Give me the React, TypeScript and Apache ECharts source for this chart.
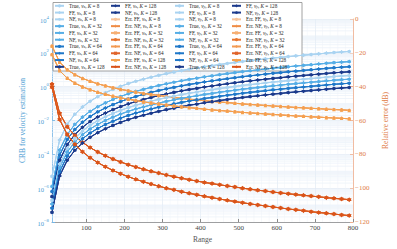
import React, { useEffect, useRef } from 'react';
import * as echarts from 'echarts';

const SERIF = '"Liberation Serif", "DejaVu Serif", serif';

// Range samples (marker positions)
const ranges = [10, 30, 50, 70, 90, 110, 130, 150, 170, 190, 210, 230, 250, 270, 290, 310, 330, 350, 370, 390,
  410, 430, 450, 470, 490, 510, 530, 550, 570, 590, 610, 630, 650, 670, 690, 710, 730, 750, 770, 790];

// CRB curves, read as log10 of the value (left log axis)
const crbVxK8 = [-5.30, -3.15, -2.22, -1.63, -1.20, -0.86, -0.59, -0.36, -0.16, 0.02, 0.18, 0.32, 0.44, 0.56, 0.67, 0.77, 0.86, 0.95, 1.03, 1.10,
  1.18, 1.24, 1.31, 1.37, 1.43, 1.49, 1.54, 1.59, 1.64, 1.69, 1.73, 1.78, 1.82, 1.86, 1.90, 1.94, 1.98, 2.02, 2.05, 2.08];
const crbVxK32 = [-5.90, -3.75, -2.82, -2.23, -1.80, -1.46, -1.19, -0.96, -0.76, -0.58, -0.42, -0.28, -0.16, -0.04, 0.07, 0.17, 0.26, 0.35, 0.43, 0.50,
  0.58, 0.64, 0.71, 0.77, 0.83, 0.89, 0.94, 0.99, 1.04, 1.09, 1.13, 1.18, 1.22, 1.26, 1.30, 1.34, 1.38, 1.42, 1.45, 1.48];
const crbVxK64 = [-6.20, -4.05, -3.12, -2.53, -2.10, -1.76, -1.49, -1.26, -1.06, -0.88, -0.72, -0.58, -0.46, -0.34, -0.23, -0.13, -0.04, 0.05, 0.13, 0.20,
  0.28, 0.34, 0.41, 0.47, 0.53, 0.59, 0.64, 0.69, 0.74, 0.79, 0.83, 0.88, 0.92, 0.96, 1.00, 1.04, 1.08, 1.12, 1.15, 1.18];
const crbVxK128 = [-6.50, -4.35, -3.42, -2.83, -2.40, -2.06, -1.79, -1.56, -1.36, -1.18, -1.02, -0.88, -0.76, -0.64, -0.53, -0.43, -0.34, -0.25, -0.17, -0.10,
  -0.02, 0.04, 0.11, 0.17, 0.23, 0.29, 0.34, 0.39, 0.44, 0.49, 0.53, 0.58, 0.62, 0.66, 0.70, 0.74, 0.78, 0.82, 0.85, 0.88];
const crbVyK8 = [-6.72, -4.57, -3.64, -3.05, -2.62, -2.28, -2.01, -1.78, -1.58, -1.40, -1.24, -1.10, -0.98, -0.86, -0.75, -0.65, -0.56, -0.47, -0.39, -0.32,
  -0.24, -0.18, -0.11, -0.05, 0.01, 0.07, 0.12, 0.17, 0.22, 0.27, 0.31, 0.36, 0.40, 0.44, 0.48, 0.52, 0.56, 0.60, 0.63, 0.66];
const crbVyK32 = [-6.94, -4.79, -3.86, -3.27, -2.84, -2.50, -2.23, -2.00, -1.80, -1.62, -1.46, -1.32, -1.20, -1.08, -0.97, -0.87, -0.78, -0.69, -0.61, -0.54,
  -0.46, -0.40, -0.33, -0.27, -0.21, -0.15, -0.10, -0.05, 0.00, 0.05, 0.09, 0.14, 0.18, 0.22, 0.26, 0.30, 0.34, 0.38, 0.41, 0.44];
const crbVyK64 = [-7.18, -5.03, -4.10, -3.51, -3.08, -2.74, -2.47, -2.24, -2.04, -1.86, -1.70, -1.56, -1.44, -1.32, -1.21, -1.11, -1.02, -0.93, -0.85, -0.78,
  -0.70, -0.64, -0.57, -0.51, -0.45, -0.39, -0.34, -0.29, -0.24, -0.19, -0.15, -0.10, -0.06, -0.02, 0.02, 0.06, 0.10, 0.14, 0.17, 0.20];
const crbVyK128 = [-7.43, -5.28, -4.35, -3.76, -3.33, -2.99, -2.72, -2.49, -2.29, -2.11, -1.95, -1.81, -1.69, -1.57, -1.46, -1.36, -1.27, -1.18, -1.10, -1.03,
  -0.95, -0.89, -0.82, -0.76, -0.70, -0.64, -0.59, -0.54, -0.49, -0.44, -0.40, -0.35, -0.31, -0.27, -0.23, -0.19, -0.15, -0.11, -0.08, -0.05];

// Relative errors in dB (right axis)
const errFFVx = [-16.0, -25.5, -30.0, -32.9, -35.1, -36.8, -38.3, -39.5, -40.6, -41.6, -42.4, -43.2, -44.0, -44.6, -45.2, -45.8, -46.4, -46.9, -47.4, -47.8,
  -48.3, -48.7, -49.1, -49.4, -49.8, -50.2, -50.5, -50.8, -51.1, -51.4, -51.7, -52.0, -52.3, -52.5, -52.8, -53.0, -53.3, -53.5, -53.7, -54.0];
const errFFVy = [-21.0, -30.5, -35.0, -37.9, -40.1, -41.8, -43.3, -44.5, -45.6, -46.6, -47.4, -48.2, -49.0, -49.6, -50.2, -50.8, -51.4, -51.9, -52.4, -52.8,
  -53.3, -53.7, -54.1, -54.4, -54.8, -55.2, -55.5, -55.8, -56.1, -56.4, -56.7, -57.0, -57.3, -57.5, -57.8, -58.0, -58.3, -58.5, -58.7, -59.0];
const errNFVx = [-38.5, -55.7, -63.7, -68.9, -72.9, -76.0, -78.6, -80.8, -82.8, -84.5, -86.1, -87.5, -88.8, -90.0, -91.1, -92.2, -93.2, -94.1, -95.0, -95.8,
  -96.6, -97.3, -98.0, -98.7, -99.3, -100.0, -100.6, -101.2, -101.7, -102.3, -102.8, -103.3, -103.8, -104.2, -104.7, -105.1, -105.6, -106.0, -106.4, -106.8];
const errNFVy = [-40.3, -59.4, -68.3, -74.1, -78.5, -82.0, -84.9, -87.3, -89.5, -91.5, -93.2, -94.8, -96.2, -97.6, -98.8, -100.0, -101.0, -102.1, -103.0, -103.9,
  -104.8, -105.6, -106.4, -107.2, -107.9, -108.6, -109.3, -109.9, -110.5, -111.1, -111.7, -112.3, -112.8, -113.3, -113.9, -114.4, -114.8, -115.3, -115.8, -116.2];

const kValues = ['8', '32', '64', '128'];
const methods = ['True', 'FF', 'NF'];
const xTickLabels = ['100', '200', '300', '400', '500', '600', '700', '800'];

const blueColors = ['#A9D3F1', '#56AEE6', '#1F78C9', '#1B3A8C'];
const errFFColors = ['#F8C49A', '#F6AE72', '#F39A52', '#F5A04C'];
const errNFColors = ['#EF8C45', '#E8752F', '#E0632A', '#D95319'];

const HEX = 'path://M0,-10L2.89,-5L8.66,-5L5.77,0L8.66,5L2.89,5L0,10L-2.89,5L-8.66,5L-5.77,0L-8.66,-5L-2.89,-5Z';
const PLUS = 'path://M-1.5,-10H1.5V-1.5H10V1.5H1.5V10H-1.5V1.5H-10V-1.5H-1.5Z';

const components = [
  { sub: 'x', crb: [crbVxK8, crbVxK32, crbVxK64, crbVxK128], errFF: errFFVx, errNF: errNFVx },
  { sub: 'y', crb: [crbVyK8, crbVyK32, crbVyK64, crbVyK128], errFF: errFFVy, errNF: errNFVy },
];

function buildSeries() {
  const series: any[] = [];
  const names: string[] = [];
  const methodSym: Record<string, [string, number]> = { True: ['circle', 2.6], FF: ['diamond', 3.4], NF: [HEX, 4.2] };
  const ffSym: [string, number][] = [['circle', 3.2], ['rect', 2.8], ['diamond', 3.4], ['triangle', 3.6]];
  const nfSym: [string, number][] = [[PLUS, 3.6], ['circle', 3.2], ['rect', 2.8], [HEX, 5]];
  components.forEach((c) => {
    kValues.forEach((k, ki) => {
      methods.forEach((m) => {
        const name = `${m}, v_${c.sub}, K = ${k}`;
        names.push(name);
        series.push({
          name, type: 'line', yAxisIndex: 0,
          data: ranges.map((r, i) => [r, 10 ** c.crb[ki][i]]),
          symbol: methodSym[m][0], symbolSize: methodSym[m][1],
          lineStyle: { width: 1, color: blueColors[ki] },
          itemStyle: { color: blueColors[ki] },
        });
      });
    });
    kValues.forEach((k, ki) => {
      const nFF = `Err. FF, v_${c.sub}, K = ${k}`;
      names.push(nFF);
      series.push({
        name: nFF, type: 'line', yAxisIndex: 1,
        data: ranges.map((r, i) => [r, c.errFF[i]]),
        symbol: ffSym[ki][0], symbolSize: ffSym[ki][1],
        lineStyle: { width: 1, color: errFFColors[ki] },
        itemStyle: { color: errFFColors[ki] },
      });
      const nNF = `Err. NF, v_${c.sub}, K = ${k}`;
      names.push(nNF);
      series.push({
        name: nNF, type: 'line', yAxisIndex: 1,
        data: ranges.map((r, i) => [r, c.errNF[i]]),
        symbol: nfSym[ki][0], symbolSize: nfSym[ki][1],
        lineStyle: { width: 1, color: errNFColors[ki] },
        itemStyle: { color: errNFColors[ki] },
      });
    });
  });
  return { series, names };
}

// grid line positions (not data)
const yMinorLines: number[] = [];
for (let d = -8; d < 4; d++) {
  for (let m = 1; m < 10; m++) {
    if (m === 1 && d % 2 === 0) continue;
    yMinorLines.push(m * Math.pow(10, d));
  }
}
const xMinorLines: number[] = [];
for (let v = 20; v < 800; v += 20) if (v % 100 !== 0) xMinorLines.push(v);

const legendFormatter = (name: string) => {
  const m = name.match(/^(.*), v_(\w), K = (\d+)$/);
  if (!m) return name;
  return `{t|${m[1]}, }{k|v}{s|${m[2]}}{t|, }{k|K}{t| = ${m[3]}}`;
};

const legendRich = {
  t: { fontFamily: SERIF, fontSize: 5.2, lineHeight: 6, color: '#222' },
  k: { fontFamily: SERIF, fontSize: 5.2, lineHeight: 6, color: '#222', fontStyle: 'italic' },
  s: { fontFamily: SERIF, fontSize: 3.8, lineHeight: 4, color: '#222', fontStyle: 'italic', verticalAlign: 'bottom' },
};

export default function App() {
  const ref = useRef<HTMLDivElement>(null);
  useEffect(() => {
    if (!ref.current) return;
    const chart = echarts.init(ref.current, null, { renderer: 'svg' });
    const { series, names } = buildSeries();
    const cols = [names.slice(0, 10), names.slice(10, 20), names.slice(20, 30), names.slice(30, 40)];
    const colLeft = [54, 110, 174, 231];

    const gridSeries = [
      {
        type: 'custom', yAxisIndex: 0, z: 1, silent: true,
        data: yMinorLines.map((v) => [10, v]),
        renderItem: (_p: any, api: any) => {
          const v = api.value(1);
          const a = api.coord([10, v]);
          const b = api.coord([800, v]);
          return { type: 'line', shape: { x1: a[0], y1: a[1], x2: b[0], y2: b[1] }, style: { stroke: '#e6eff8', lineWidth: 0.6 } };
        },
      },
      {
        type: 'custom', yAxisIndex: 0, z: 1, silent: true,
        data: xMinorLines.map((v) => [v, 1]),
        renderItem: (_p: any, api: any) => {
          const v = api.value(0);
          const a = api.coord([v, 1e-8]);
          const b = api.coord([v, 1e4]);
          return { type: 'line', shape: { x1: a[0], y1: a[1], x2: b[0], y2: b[1] }, style: { stroke: '#eef3f9', lineWidth: 0.5 } };
        },
      },
    ];

    const blueText = '#4B9CD3';
    const orangeText = '#E07B45';

    chart.setOption({
      animation: false,
      backgroundColor: '#ffffff',
      textStyle: { fontFamily: SERIF },
      grid: { left: 52, right: 39, top: 19, bottom: 27 },
      graphic: [
        {
          type: 'rect', z: 3,
          shape: { x: 53, y: 2.5, width: 249, height: 68.5 },
          style: { fill: '#ffffff', stroke: '#8c8c8c', lineWidth: 0.8 },
        },
      ],
      legend: cols.map((data, i) => ({
        orient: 'vertical', left: colLeft[i], top: 2.8, padding: 0, itemGap: 0.78,
        itemWidth: 9, itemHeight: 4, data, formatter: legendFormatter, selectedMode: false, z: 5,
        textStyle: { fontFamily: SERIF, fontSize: 5.2, lineHeight: 6, color: '#222', rich: legendRich },
      })),
      xAxis: {
        type: 'value', min: 10, max: 800, splitNumber: 8,
        name: 'Range', nameLocation: 'middle', nameGap: 9,
        nameTextStyle: { fontFamily: SERIF, fontSize: 7.5, color: '#555' },
        axisLine: { onZero: false, lineStyle: { color: '#8a8a8a', width: 0.8 } },
        axisTick: { inside: true, length: 3, lineStyle: { color: '#8a8a8a' } },
        axisLabel: {
          showMinLabel: false, margin: 2, fontFamily: SERIF, fontSize: 7, color: '#444',
          formatter: (v: number) => (xTickLabels.includes(String(v)) ? String(v) : ''),
        },
        splitLine: { show: true, lineStyle: { color: '#dde8f2', width: 0.6 } },
      },
      yAxis: [
        {
          type: 'log', logBase: 10, min: 1e-8, max: 1e4, interval: 2, position: 'left',
          name: 'CRB for velocity estimation', nameLocation: 'middle', nameGap: 15,
          nameTextStyle: { fontFamily: SERIF, fontSize: 7.5, color: blueText },
          axisLine: { show: true, onZero: false, lineStyle: { color: '#74B5E4', width: 0.8 } },
          axisTick: { show: true, inside: true, length: 3, lineStyle: { color: '#74B5E4' } },
          axisLabel: {
            margin: 3,
            formatter: (v: number) => {
              const e = Math.round(Math.log10(v));
              return `{b|10}{e|${e < 0 ? '\u2212' + -e : e}}`;
            },
            rich: {
              b: { fontFamily: SERIF, fontSize: 6.5, lineHeight: 9, color: blueText, verticalAlign: 'bottom' },
              e: { fontFamily: SERIF, fontSize: 4.8, lineHeight: 5, color: blueText, verticalAlign: 'top' },
            },
          },
          splitLine: { show: true, lineStyle: { color: '#dde8f2', width: 0.6 } },
        },
        {
          type: 'value', min: -120, max: 0, interval: 20, position: 'right',
          name: 'Relative error (dB)', nameLocation: 'middle', nameGap: 28,
          nameTextStyle: { fontFamily: SERIF, fontSize: 7.5, color: orangeText },
          axisLine: { show: true, onZero: false, lineStyle: { color: '#F2AE8C', width: 0.8 } },
          axisTick: { show: true, inside: true, length: 3, lineStyle: { color: '#F2AE8C' } },
          axisLabel: {
            margin: 2, fontFamily: SERIF, fontSize: 7, color: orangeText,
            formatter: (v: number) => String(v).replace('-', '\u2212'),
          },
          splitLine: { show: false },
        },
      ],
      series: [...gridSeries, ...series],
    });
    return () => chart.dispose();
  }, []);
  return (
    <div style={{ position: 'fixed', left: 0, top: 0, width: 397, height: 249, background: '#fff' }}>
      <div ref={ref} style={{ width: 397, height: 249 }} />
    </div>
  );
}
